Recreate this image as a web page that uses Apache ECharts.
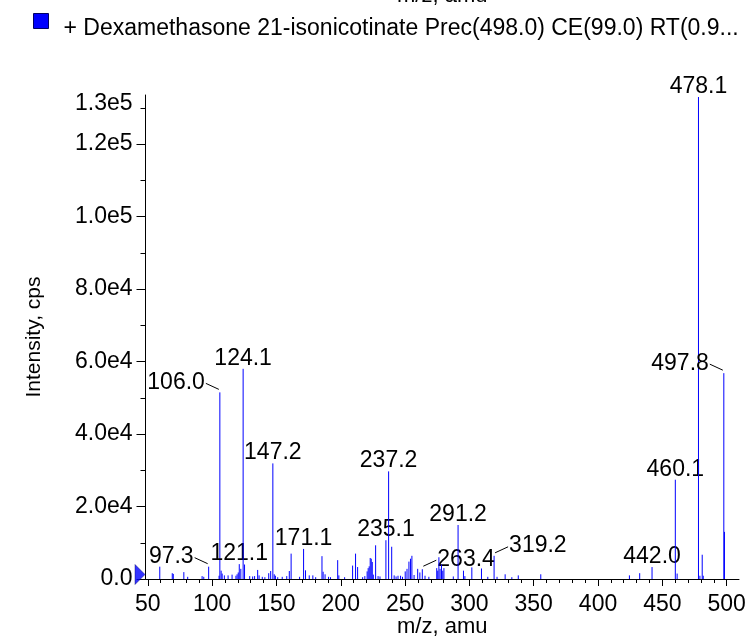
<!DOCTYPE html>
<html><head><meta charset="utf-8">
<script src="https://cdn.jsdelivr.net/npm/echarts@6/dist/echarts.min.js"></script>
<style>html,body{margin:0;padding:0;background:#fff}#c{width:753px;height:643px}</style>
</head><body><div id="c"></div>
<script>
// ---- data ----
const seriesName = '+ Dexamethasone 21-isonicotinate Prec(498.0) CE(99.0) RT(0.9...';
const xAxisTitle = 'm/z, amu';
const yAxisTitle = 'Intensity, cps';
const mzValues = [
  59.3, 69.0, 69.8, 78.0, 81.0, 92.2, 93.5, 97.3, 105.4, 106.0, 107.0, 107.8, 109.5, 112.4, 115.5, 118.5,
  119.4, 120.3, 121.1, 122.3, 124.1, 125.2, 129.2, 131.5, 133.0, 135.4, 136.5, 139.0, 141.0, 144.0, 145.5,
  147.2, 148.3, 149.2, 151.0, 154.5, 158.0, 160.0, 161.4, 168.0, 171.1, 172.6, 175.5, 178.3, 180.5, 185.4,
  186.3, 187.8, 190.5, 192.0, 197.6, 198.5, 203.0, 209.2, 211.5, 213.1, 217.0, 218.7, 220.5, 221.3, 222.1,
  222.9, 223.7, 224.5, 225.3, 227.1, 229.0, 230.5, 235.1, 237.2, 239.6, 241.5, 243.0, 244.5, 246.5, 248.0,
  250.1, 251.5, 253.0, 254.2, 255.3, 257.0, 259.8, 261.5, 263.4, 265.5, 268.5, 274.6, 275.4, 276.3, 277.2,
  278.3, 279.3, 280.2, 287.5, 291.2, 295.4, 296.5, 301.9, 309.4, 314.3, 319.2, 321.5, 327.8, 333.0, 338.0,
  355.5, 424.4, 432.4, 442.0, 460.1, 461.5, 478.1, 479.2, 481.0, 481.8, 497.8, 498.3
];
const intensities = [
  3400, 1600, 1400, 1900, 600, 800, 600, 3400, 900, 51500, 2300, 1500, 1000, 1000, 1200, 900,
  1300, 1800, 4100, 2800, 58000, 4000, 800, 700, 800, 2500, 1000, 600, 500, 1600, 2200,
  31900, 1300, 900, 500, 600, 800, 2200, 7000, 600, 8300, 2400, 1000, 1000, 500, 6300,
  2000, 1300, 600, 500, 5200, 1000, 500, 3700, 7000, 3300, 500, 800, 2100, 3000, 3500,
  5800, 5600, 4700, 1200, 9300, 800, 700, 10700, 29700, 8900, 1000, 700, 900, 900, 600,
  2100, 2800, 4800, 5600, 6400, 1100, 2800, 1800, 2700, 900, 600, 3000, 2300, 6000, 2800,
  4000, 2300, 3000, 700, 14900, 2300, 800, 3200, 2900, 600, 6400, 600, 1300, 500, 1000,
  1300, 1000, 1600, 3300, 27400, 1500, 133000, 900, 6700, 900, 56800, 13000
];
const labeledMz = [97.3, 106.0, 121.1, 124.1, 147.2, 171.1, 235.1, 237.2, 263.4, 291.2, 319.2, 442.0, 460.1, 478.1, 497.8];
const xTickValues = [50, 100, 150, 200, 250, 300, 350, 400, 450, 500];
const xMinorTickValues = [50,60,70,80,90,100,110,120,130,140,150,160,170,180,190,200,210,220,230,240,250,260,270,280,290,300,310,320,330,340,350,360,370,380,390,400,410,420,430,440,450,460,470,480,490,500];
const yTickValues = [0, 20000, 40000, 60000, 80000, 100000, 120000];
const yMinorTickValues = [10000, 30000, 50000, 70000, 90000, 110000, 130000];

// ---- axis extents / layout ----
const X_MIN = 48.2, X_MAX = 509.6, Y_MIN = 0, Y_MAX = 133560;
const Y_TOP_LABEL_POS = 131300;

const FONT = '"Liberation Sans", Arial, Helvetica, sans-serif';
const BLUE = '#0000ff';
const LABEL_FS = 23;
// legend marker: 15x15 square sitting in the upper part of a taller icon box
const LEGEND_ICON = 'path://M0,0L15,0L15,15L0,15Z M7.5,31L7.51,31';

const peakData = mzValues.map((m, i) => [m, intensities[i]]);
const labelTextByIndex = {};
labeledMz.forEach(m => {
  let best = 0, bd = Infinity;
  mzValues.forEach((v, i) => { const d = Math.abs(v - m); if (d < bd) { bd = d; best = i; } });
  labelTextByIndex[best] = m.toFixed(1);
});
const labelSide = { '97.3': 'left', '106.0': 'left', '497.8': 'left', '263.4': 'right', '319.2': 'right' };

function fmtY(v) {
  if (v === 0) return '0.0';
  if (v > 130000) return '1.3e5';
  return v.toExponential(1).replace('e+', 'e');
}

const chart = echarts.init(document.getElementById('c'), null, { renderer: 'canvas' });
chart.setOption({
  animation: false,
  backgroundColor: '#fff',
  textStyle: { fontFamily: FONT },
  grid: { left: 145.5, right: 14, top: 95, bottom: 58.5, containLabel: false },
  legend: {
    data: [{ name: seriesName, icon: LEGEND_ICON }],
    left: 28, top: 8,
    itemWidth: 15, itemHeight: 31,
    selectedMode: false,
    itemStyle: { color: BLUE, borderColor: '#000066', borderWidth: 1 },
    textStyle: { fontSize: 23, fontFamily: FONT, color: '#000', padding: [0, 0, 0, 10] }
  },
  graphic: [{
    type: 'text', left: 397, top: -15, silent: true,
    style: { text: xAxisTitle, fontSize: 22, fontFamily: FONT, fill: '#000' }
  }],
  xAxis: [{
    type: 'value', min: X_MIN, max: X_MAX, position: 'bottom',
    name: xAxisTitle, nameLocation: 'middle', nameGap: 37, nameMoveOverlap: false,
    nameTextStyle: { fontSize: 22, fontFamily: FONT, color: '#000' },
    axisLine: { show: true, onZero: false, lineStyle: { color: '#000', width: 1 } },
    axisTick: { show: true, length: 7, customValues: xTickValues, lineStyle: { color: '#000' } },
    axisLabel: { show: true, customValues: xTickValues, margin: 14, fontSize: 23, fontFamily: FONT, color: '#000', formatter: v => String(v) },
    splitLine: { show: false }
  }, {
    type: 'value', min: X_MIN, max: X_MAX, position: 'bottom', offset: 0,
    axisLine: { show: false },
    axisTick: { show: true, length: 4, customValues: xMinorTickValues, lineStyle: { color: '#000' } },
    axisLabel: { show: false },
    splitLine: { show: false }
  }],
  yAxis: [{
    type: 'value', min: Y_MIN, max: Y_MAX, position: 'left',
    name: yAxisTitle, nameLocation: 'middle', nameGap: 101, nameRotate: 90, nameMoveOverlap: false,
    nameTextStyle: { fontSize: 21, fontFamily: FONT, color: '#000' },
    axisLine: { show: true, onZero: false, lineStyle: { color: '#000', width: 1 } },
    axisTick: { show: true, length: 9, customValues: yTickValues, lineStyle: { color: '#000' } },
    axisLabel: { show: true, customValues: yTickValues.concat([Y_TOP_LABEL_POS]), margin: 13, fontSize: 23, fontFamily: FONT, color: '#000', formatter: fmtY },
    splitLine: { show: false }
  }, {
    type: 'value', min: Y_MIN, max: Y_MAX, position: 'left', offset: 0,
    axisLine: { show: false },
    axisTick: { show: true, length: 5, customValues: yMinorTickValues, lineStyle: { color: '#000' } },
    axisLabel: { show: false },
    splitLine: { show: false }
  }],
  series: [{
    name: seriesName,
    type: 'custom',
    xAxisIndex: 0, yAxisIndex: 0,
    itemStyle: { color: BLUE },
    silent: true,
    clip: false,
    data: peakData,
    renderItem: function (params, api) {
      const p0 = api.coord([api.value(0), 0]);
      const p1 = api.coord([api.value(0), api.value(1)]);
      const px = p0[0], py = p1[1];
      const children = [{
        type: 'line', shape: { x1: px, y1: p0[1], x2: px, y2: py },
        style: { stroke: BLUE, fill: null, lineWidth: 1 }
      }];
      const txt = labelTextByIndex[params.dataIndex];
      if (txt) {
        const side = labelSide[txt] || 'above';
        const ts = { text: txt, fontSize: LABEL_FS, fontFamily: FONT, fill: '#000', stroke: null };
        if (side === 'above') {
          children.push({ type: 'text', x: px, y: py + 1, style: Object.assign(ts, { align: 'center', verticalAlign: 'bottom' }) });
        } else {
          const dir = side === 'left' ? -1 : 1;
          children.push({
            type: 'line',
            shape: { x1: px + dir * 1, y1: py - 3, x2: px + dir * 14, y2: py - 9 },
            style: { stroke: '#000', fill: null, lineWidth: 1 }
          });
          children.push({
            type: 'text', x: px + dir * 15, y: py - 10,
            style: Object.assign(ts, { align: side === 'left' ? 'right' : 'left', verticalAlign: 'middle' })
          });
        }
      }
      return { type: 'group', children: children };
    }
  }, {
    name: 'precursor',
    type: 'scatter',
    xAxisIndex: 0, yAxisIndex: 0,
    silent: true,
    clip: false,
    data: [[X_MIN, 0]],
    symbol: 'triangle',
    symbolSize: [20, 10],
    symbolRotate: -90,
    symbolOffset: [-5.5, -4.5],
    itemStyle: { color: BLUE, borderColor: '#000066', borderWidth: 0.5 }
  }]
});
</script>
</body></html>
